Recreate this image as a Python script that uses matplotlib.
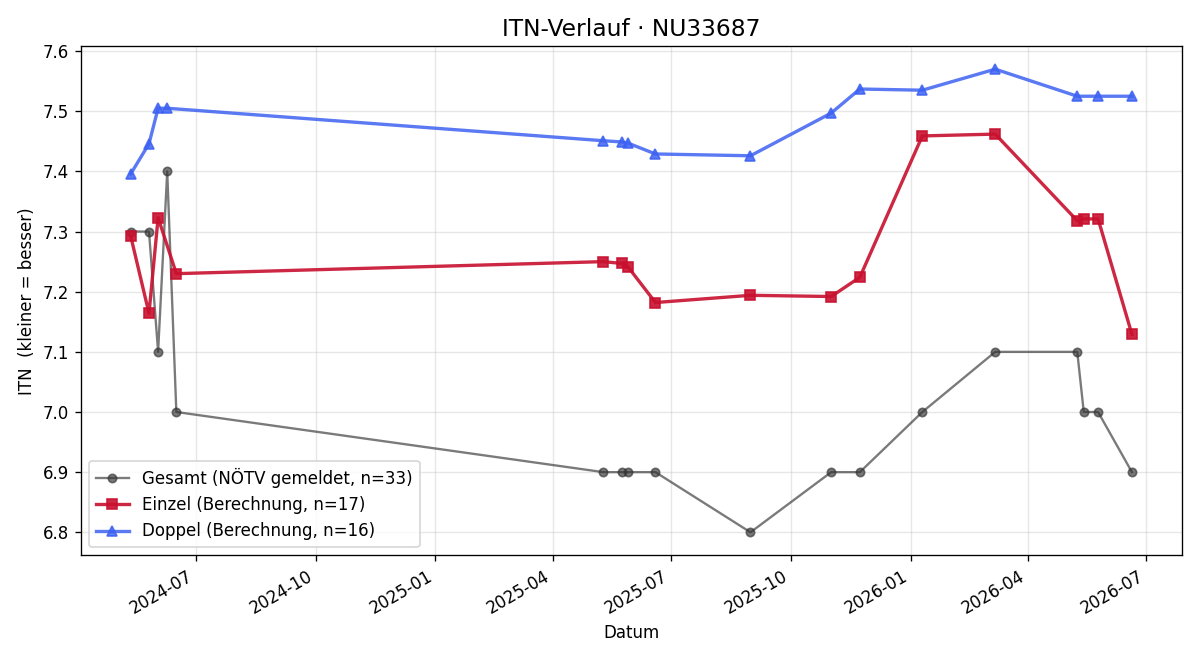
import matplotlib
matplotlib.use("Agg")
import matplotlib.pyplot as plt
import matplotlib.dates as mdates
import pandas as pd

gesamt_dates = ["2024-05-12", "2024-05-26", "2024-06-02", "2024-06-09", "2024-06-16",
                "2025-05-10", "2025-05-24", "2025-05-29", "2025-06-19", "2025-08-31",
                "2025-11-01", "2025-11-23", "2026-01-10", "2026-03-07", "2026-05-09",
                "2026-05-14", "2026-05-25", "2026-06-20"]
gesamt_vals = [7.3, 7.3, 7.1, 7.4, 7.0, 6.9, 6.9, 6.9, 6.9, 6.8,
               6.9, 6.9, 7.0, 7.1, 7.1, 7.0, 7.0, 6.9]

einzel_dates = ["2024-05-12", "2024-05-26", "2024-06-02", "2024-06-16",
                "2025-05-10", "2025-05-24", "2025-05-29", "2025-06-19", "2025-08-31",
                "2025-11-01", "2025-11-23", "2026-01-10", "2026-03-07", "2026-05-09",
                "2026-05-14", "2026-05-25", "2026-06-20"]
einzel_vals = [7.292, 7.164, 7.323, 7.230, 7.250, 7.247, 7.241, 7.182, 7.194,
               7.192, 7.224, 7.459, 7.462, 7.318, 7.321, 7.321, 7.129]

doppel_dates = ["2024-05-12", "2024-05-26", "2024-06-02", "2024-06-09",
                "2025-05-10", "2025-05-24", "2025-05-29", "2025-06-19", "2025-08-31",
                "2025-11-01", "2025-11-23", "2026-01-10", "2026-03-07", "2026-05-09",
                "2026-05-25", "2026-06-20"]
doppel_vals = [7.396, 7.446, 7.505, 7.505, 7.451, 7.449, 7.447, 7.429, 7.426,
               7.497, 7.537, 7.535, 7.570, 7.525, 7.525, 7.525]

fig, ax = plt.subplots(figsize=(10, 5.5), dpi=120)

ax.plot(pd.to_datetime(gesamt_dates), gesamt_vals, marker="o", color="#333333",
        alpha=0.65, lw=1.4, ms=5, label="Gesamt (NÖTV gemeldet, n=33)")
ax.plot(pd.to_datetime(einzel_dates), einzel_vals, marker="s", color="#c8102e",
        alpha=0.9, lw=2, ms=6, label="Einzel (Berechnung, n=17)")
ax.plot(pd.to_datetime(doppel_dates), doppel_vals, marker="^", color="#3d62f2",
        alpha=0.85, lw=2, ms=6, label="Doppel (Berechnung, n=16)")

ax.xaxis.set_major_locator(mdates.MonthLocator(bymonth=[1, 4, 7, 10]))
ax.xaxis.set_major_formatter(mdates.DateFormatter("%Y-%m"))
ax.set_title("ITN-Verlauf · NU33687", fontsize=14)
ax.set_xlabel("Datum")
ax.set_ylabel("ITN  (kleiner = besser)")
ax.grid(True, alpha=0.3)
ax.legend(loc="lower left")
fig.autofmt_xdate()
fig.tight_layout()
fig.savefig("out.png")
